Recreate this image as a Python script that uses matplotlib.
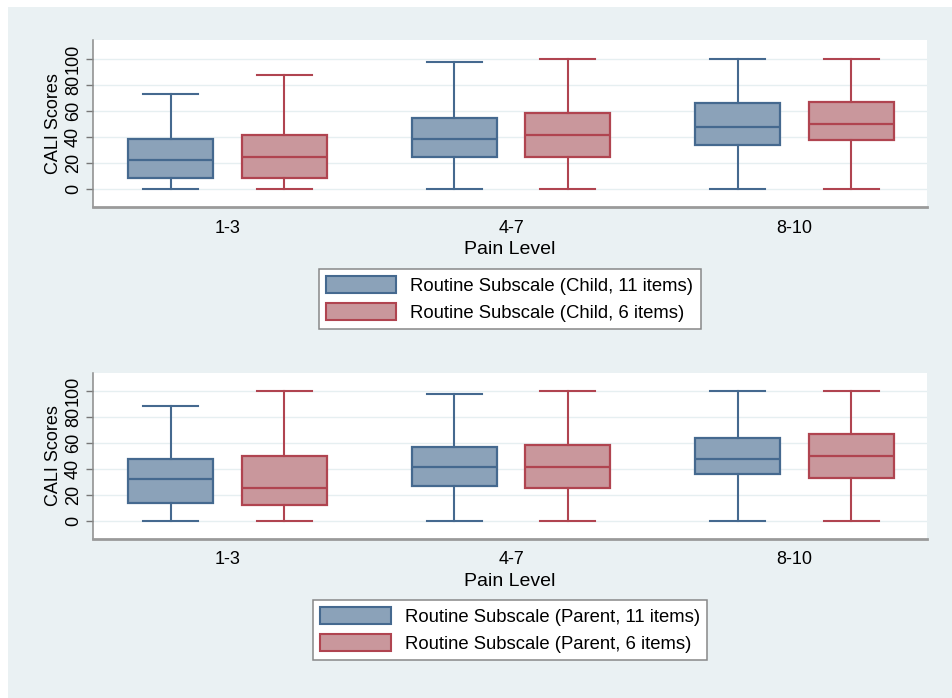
import matplotlib
matplotlib.use('Agg')
import matplotlib.pyplot as plt
from matplotlib.patches import Patch, Rectangle

plt.rcParams['font.family'] = ['Liberation Sans', 'DejaVu Sans']

# dados
niveis = ['1-3', '4-7', '8-10']

# painel de cima (Child)
child11_low = [0, 0, 0]
child11_q1 = [8.7, 24.9, 34.2]
child11_med = [22.6, 38.8, 47.6]
child11_q3 = [38.6, 54.8, 65.8]
child11_high = [72.8, 97.9, 100]

child6_low = [0, 0, 0]
child6_q1 = [8.7, 24.9, 37.5]
child6_med = [24.9, 41.6, 50.1]
child6_q3 = [41.6, 58.4, 66.8]
child6_high = [87.4, 100, 100]

# painel de baixo (Parent)
parent11_low = [0, 0, 0]
parent11_q1 = [13.8, 27.0, 36.5]
parent11_med = [32.1, 41.8, 47.7]
parent11_q3 = [47.4, 56.9, 63.5]
parent11_high = [88.3, 97.4, 100]

parent6_low = [0, 0, 0]
parent6_q1 = [12.5, 25.3, 33.4]
parent6_med = [25.3, 41.3, 50.0]
parent6_q3 = [50.0, 58.2, 66.6]
parent6_high = [100, 100, 100]

azul_fill = '#8ba2b9'
azul_edge = '#45698f'
verm_fill = '#c9979c'
verm_edge = '#b04450'
fundo = '#eaf1f3'


def stats(low, q1, med, q3, high):
    return [dict(whislo=a, q1=b, med=c, q3=d, whishi=e)
            for a, b, c, d, e in zip(low, q1, med, q3, high)]


def caixas(ax, st, pos, fill, edge):
    ax.bxp(st, positions=pos, widths=0.3, capwidths=0.194, patch_artist=True,
           showfliers=False,
           boxprops=dict(facecolor=fill, edgecolor=edge, linewidth=1.6),
           medianprops=dict(color=edge, linewidth=1.6),
           whiskerprops=dict(color=edge, linewidth=1.5),
           capprops=dict(color=edge, linewidth=1.5))


def painel(ax, s11, s6, ylim):
    x = list(range(len(niveis)))
    caixas(ax, s11, [i - 0.2 for i in x], azul_fill, azul_edge)
    caixas(ax, s6, [i + 0.2 for i in x], verm_fill, verm_edge)
    ax.set_xlim(-0.475, 2.467)
    ax.set_ylim(*ylim)
    ax.set_xticks(x)
    ax.set_xticklabels(niveis, fontsize=13)
    ax.tick_params(axis='x', length=0, pad=9)
    ax.set_yticks([0, 20, 40, 60, 80, 100])
    ax.set_yticklabels(['0', '20', '40', '60', '80', '100'], rotation=90,
                       va='center', fontsize=13)
    ax.tick_params(axis='y', length=5, width=1, color='#777777', pad=3)
    ax.set_xlabel('Pain Level', fontsize=14, labelpad=3)
    ax.set_ylabel('CALI Scores', fontsize=13, labelpad=2)
    ax.yaxis.grid(True, color='#e6eff1', linewidth=1)
    ax.set_axisbelow(True)
    ax.spines['top'].set_visible(False)
    ax.spines['right'].set_visible(False)
    ax.spines['left'].set_color('#8a8a8a')
    ax.spines['left'].set_linewidth(1.1)
    ax.spines['bottom'].set_color('#9a9a9a')
    ax.spines['bottom'].set_linewidth(2)
    ax.set_facecolor('white')


fig = plt.figure(figsize=(9.52, 6.98), dpi=100)
fig.patch.set_facecolor('white')
fig.patches.append(Rectangle((8 / 952, 0), 1 - 8 / 952, 1 - 7 / 698,
                             transform=fig.transFigure, facecolor=fundo,
                             edgecolor='none', zorder=-10))

ax1 = fig.add_axes([0.0977, 0.7034, 0.876, 0.2393])
ax2 = fig.add_axes([0.0977, 0.2278, 0.876, 0.2378])

painel(ax1, stats(child11_low, child11_q1, child11_med, child11_q3, child11_high),
       stats(child6_low, child6_q1, child6_med, child6_q3, child6_high), (-13.8, 114.6))
painel(ax2, stats(parent11_low, parent11_q1, parent11_med, parent11_q3, parent11_high),
       stats(parent6_low, parent6_q1, parent6_med, parent6_q3, parent6_high), (-13.5, 113.5))


def legenda(lab1, lab2, centro):
    h = [Patch(facecolor=azul_fill, edgecolor=azul_edge, linewidth=1.5),
         Patch(facecolor=verm_fill, edgecolor=verm_edge, linewidth=1.5)]
    leg = fig.legend(h, [lab1, lab2], loc='center', bbox_to_anchor=centro,
                     fontsize=13.3, handlelength=3.8, handleheight=1.05,
                     handletextpad=0.75, labelspacing=0.45, borderpad=0.4,
                     fancybox=False, framealpha=1, edgecolor='#888888')
    leg.get_frame().set_linewidth(1.1)


legenda('Routine Subscale (Child, 11 items)', 'Routine Subscale (Child, 6 items)',
        (0.5355, 0.5716))
legenda('Routine Subscale (Parent, 11 items)', 'Routine Subscale (Parent, 6 items)',
        (0.5358, 0.0974))

plt.savefig('out.png', dpi=100, facecolor=fig.get_facecolor())
